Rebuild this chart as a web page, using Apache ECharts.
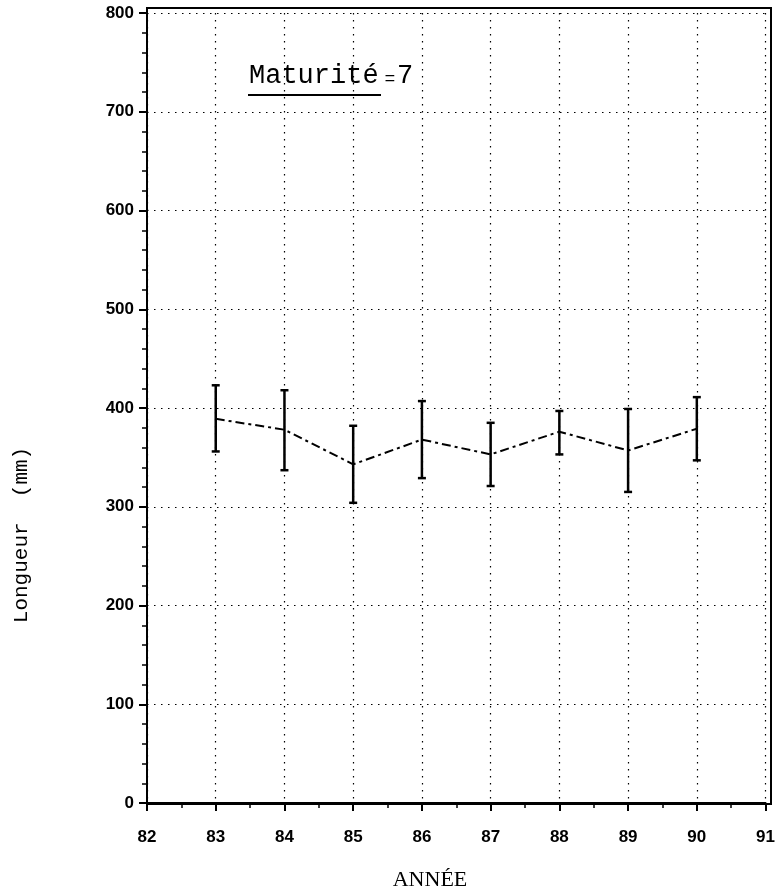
<!DOCTYPE html>
<html><head><meta charset="utf-8">
<script src="https://cdn.jsdelivr.net/npm/echarts@6/dist/echarts.min.js"></script>
<style>html,body{margin:0;padding:0;background:#fff}#c{width:778px;height:896px}</style>
</head><body><div id="c"></div>
<script>
// Data
var years = [83, 84, 85, 86, 87, 88, 89, 90];
var means = [389, 378, 343, 368, 353, 376, 357, 379];
var upper = [423, 418, 382, 407, 385, 397, 399, 411];
var lower = [356, 337, 304, 329, 321, 353, 315, 347];
var xTicks = [82, 83, 84, 85, 86, 87, 88, 89, 90, 91];
var yTicks = [0, 100, 200, 300, 400, 500, 600, 700, 800];

var lineData = years.map(function(y, i){ return [y, means[i]]; });
var errData = years.map(function(y, i){ return [y, lower[i], upper[i]]; });

var chart = echarts.init(document.getElementById('c'), null, {renderer: 'canvas'});
var tickFont = {fontFamily: 'Liberation Sans', fontWeight: 'bold', fontSize: 17, color: '#000'};
var gridDots = {color: '#000', width: 1.2, type: [1.5, 5.5]};
chart.setOption({
  animation: false,
  grid: {left: 147, right: 11, top: 13, bottom: 93},
  xAxis: {
    type: 'value', min: xTicks[0], max: xTicks[xTicks.length-1], interval: 1,
    axisLine: {onZero: false, lineStyle: {color: '#000', width: 2}},
    axisTick: {length: 8, lineStyle: {color: '#000', width: 2}},
    minorTick: {show: true, splitNumber: 2, length: 5, lineStyle: {color: '#000', width: 1.5}},
    splitLine: {show: true, lineStyle: gridDots},
    axisLabel: Object.assign({margin: 26}, tickFont)
  },
  yAxis: {
    type: 'value', min: yTicks[0], max: yTicks[yTicks.length-1], interval: 100,
    axisLine: {onZero: false, lineStyle: {color: '#000', width: 2}},
    axisTick: {length: 8, lineStyle: {color: '#000', width: 2}},
    minorTick: {show: true, splitNumber: 5, length: 5, lineStyle: {color: '#000', width: 1.5}},
    splitLine: {show: true, lineStyle: gridDots},
    axisLabel: Object.assign({margin: 13}, tickFont)
  },
  series: [
    {
      type: 'line', data: lineData, symbol: 'none',
      lineStyle: {color: '#000', width: 2, type: [9, 4, 3, 4]}
    },
    {
      type: 'custom', data: errData,
      renderItem: function(params, api){
        var x = api.value(0);
        var lo = api.coord([x, api.value(1)]);
        var hi = api.coord([x, api.value(2)]);
        var w = 4;
        var st = {stroke: '#000', lineWidth: 2.5};
        return {type: 'group', children: [
          {type: 'line', shape: {x1: lo[0], y1: lo[1], x2: hi[0], y2: hi[1]}, style: st},
          {type: 'line', shape: {x1: lo[0]-w, y1: lo[1], x2: lo[0]+w, y2: lo[1]}, style: st},
          {type: 'line', shape: {x1: hi[0]-w, y1: hi[1], x2: hi[0]+w, y2: hi[1]}, style: st}
        ]};
      }
    }
  ],
  graphic: [
    {type: 'rect', shape: {x: 147, y: 8, width: 624, height: 796}, style: {fill: 'none', stroke: '#000', lineWidth: 2}, silent: true},
    {type: 'text', left: 249, top: 62, style: {text: 'Maturité', font: '27px "Liberation Mono"', fill: '#000'}},
    {type: 'text', x: 390, y: 79, style: {text: '=', font: '18px "Liberation Mono"', fill: '#000', align: 'center', verticalAlign: 'middle'}},
    {type: 'text', left: 397, top: 62, style: {text: '7', font: '27px "Liberation Mono"', fill: '#000'}},
    {type: 'line', shape: {x1: 248, y1: 95, x2: 381, y2: 95}, style: {stroke: '#000', lineWidth: 2}},
    {type: 'text', x: 21, y: 535, rotation: Math.PI/2, style: {text: 'Longueur  (mm)', font: '21px "Liberation Mono"', fill: '#000', align: 'center', verticalAlign: 'middle'}},
    {type: 'text', x: 430, y: 880, style: {text: 'ANNÉE', font: '22px "Liberation Serif"', fill: '#000', align: 'center', verticalAlign: 'middle'}}
  ]
});
</script></body></html>
